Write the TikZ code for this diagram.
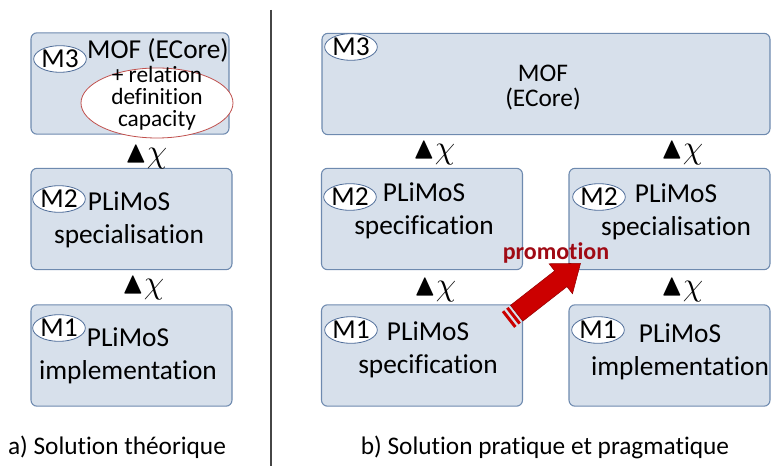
\documentclass[tikz,border=0pt]{standalone}
\usepackage{amssymb}
\usepackage{fontspec}
\setmainfont[Ligatures=NoCommon]{Carlito}
\usetikzlibrary{shapes.geometric}
\definecolor{boxfill}{RGB}{215,224,235}
\definecolor{boxline}{RGB}{110,138,175}
\definecolor{tagline}{RGB}{79,109,153}
\definecolor{relline}{RGB}{192,80,77}
\definecolor{promored}{RGB}{204,0,0}
\definecolor{promodark}{RGB}{150,0,0}
\definecolor{promotext}{RGB}{160,10,20}
\definecolor{sepline}{RGB}{70,70,70}

\begin{document}
\begin{tikzpicture}[x=0.75pt,y=-0.75pt,
    mbox/.style={draw=boxline,fill=boxfill,line width=0.8pt,rounded corners=4.5pt,
      minimum width=150.75pt,minimum height=76pt,inner sep=0pt},
    mtag/.style={ellipse,draw=tagline,fill=white,line width=0.6pt,
      minimum width=37.5pt,minimum height=20pt,inner sep=0pt,font=\fontsize{20.5}{20}\selectfont},
    mtxt/.style={align=center,inner sep=0pt,font=\fontsize{20.5}{24.5}\selectfont},
    conf/.style={inner sep=0pt,font=\fontsize{23}{23}\selectfont},
    capt/.style={inner sep=0pt,font=\fontsize{19}{22}\selectfont}]
    \useasboundingbox (0,0) rectangle (771,466);

    % separator
    \coordinate (septop) at (271,10);
    \coordinate (sepbot) at (271,466);
    \draw[sepline,line width=1.2pt] (septop) -- (sepbot);

    % a) theoretical solution
    \node[mbox,minimum width=148.5pt] (m3l) at (130,83.5) {};
    \node[mtag] (m3ltag) at (60,59) {M3};
    \node[mtxt] (m3ltxt) at (158,50) {MOF (ECore)};
    \node[ellipse,draw=relline,fill=white,line width=0.6pt,minimum width=114pt,minimum height=52.5pt] (relcap) at (157,103) {};
    \node[mtxt,font=\fontsize{17.5}{16.5}\selectfont] (reltxt) at (157,98) {+ relation\\definition\\capacity};

    \node[mbox] (m2l) at (131.5,219) {};
    \node[mtag] (m2ltag) at (59,199) {M2};
    \node[mtxt] (m2ltxt) at (129,219.5) {PLiMoS\\specialisation};

    \node[mbox] (m1l) at (131.5,355.5) {};
    \node[mtag] (m1ltag) at (59,328) {M1};
    \node[mtxt] (m1ltxt) at (128,356) {PLiMoS\\implementation};

    \node[conf] (chil1) at (146,157) {$\blacktriangle\chi$};
    \node[conf] (chil2) at (143,288) {$\blacktriangle\chi$};

    % b) practical solution
    \node[mbox,minimum width=336pt] (m3r) at (546,84) {};
    \node[mtag] (m3rtag) at (351,47) {M3};
    \node[mtxt,font=\fontsize{19}{19}\selectfont] (m3rtxt) at (543,87.5) {MOF\\(ECore)};

    \node[mbox] (m2spec) at (422,219) {};
    \node[mtag] (m2spectag) at (350,197) {M2};
    \node[mtxt] (m2spectxt) at (424,211) {PLiMoS\\specification};

    \node[mbox] (m2spl) at (669.5,219) {};
    \node[mtag] (m2spltag) at (599,197) {M2};
    \node[mtxt] (m2spltxt) at (676,212) {PLiMoS\\specialisation};

    \node[mbox] (m1spec) at (422,355.5) {};
    \node[mtag] (m1spectag) at (351,330) {M1};
    \node[mtxt] (m1spectxt) at (428,350) {PLiMoS\\specification};

    \node[mbox] (m1impl) at (669.5,355.5) {};
    \node[mtag] (m1impltag) at (598,330) {M1};
    \node[mtxt] (m1impltxt) at (680,352) {PLiMoS\\implementation};

    \node[conf] (chir1) at (434,153) {$\blacktriangle\chi$};
    \node[conf] (chir2) at (682,153) {$\blacktriangle\chi$};
    \node[conf] (chir3) at (435,290) {$\blacktriangle\chi$};
    \node[conf] (chir4) at (682,290) {$\blacktriangle\chi$};

    % promotion arrow
    \coordinate (promtail) at (508,320);
    \begin{scope}[shift={(promtail)},rotate=38]
      \fill[promored] (0,-10) rectangle (3,10);
      \fill[promored] (5.5,-10) rectangle (8.5,10);
      \draw[promodark,fill=promored,line width=0.4pt] (11,-10) -- (67,-10) -- (67,-19) -- (92,0)
        -- (67,19) -- (67,10) -- (11,10) -- cycle;
    \end{scope}
    \node[inner sep=0pt,text=promotext,font=\fontsize{18}{18}\bfseries\selectfont] (promo) at (556,253) {promotion};

    % captions
    \node[capt] (capta) at (117,447) {a) Solution théorique};
    \node[capt] (captb) at (545,447) {b) Solution pratique et pragmatique};
\end{tikzpicture}
\end{document}
